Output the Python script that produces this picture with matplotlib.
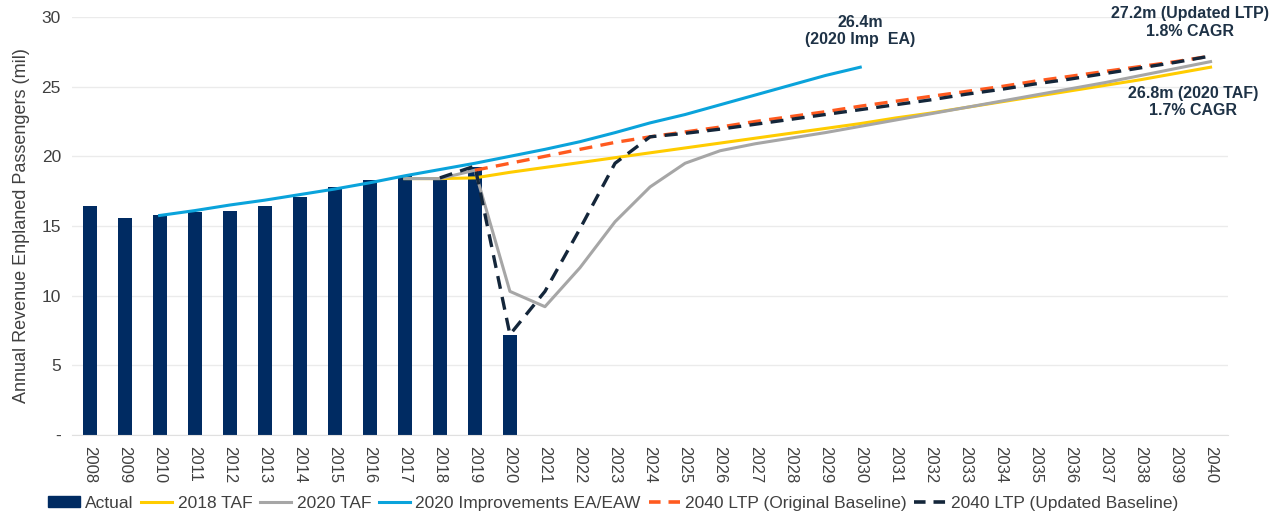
import numpy as np
import matplotlib.pyplot as plt
from matplotlib.patches import Patch
from matplotlib.lines import Line2D

plt.rcParams['font.family'] = ['Liberation Sans', 'DejaVu Sans']

years = list(range(2008, 2041))

# actual enplanements (2008-2020)
actual = [16.4, 15.6, 15.75, 16.0, 16.05, 16.4, 17.05, 17.8, 18.3, 18.55, 18.5, 19.2, 7.2]

# forecasts, first year of each series given separately
taf2018_start = 2017
taf2018 = [18.4, 18.4, 18.45, 18.85, 19.2, 19.55, 19.9, 20.25, 20.6, 20.95, 21.3, 21.65,
           22.0, 22.35, 22.75, 23.1, 23.5, 23.9, 24.3, 24.7, 25.1, 25.5, 25.95, 26.4]

taf2020_start = 2017
taf2020 = [18.4, 18.4, 19.0, 10.3, 9.2, 12.0, 15.3, 17.8, 19.5, 20.4, 20.9, 21.3,
           21.7, 22.15, 22.6, 23.05, 23.5, 23.95, 24.4, 24.85, 25.3, 25.8, 26.3, 26.8]

imp_start = 2010
imp = [15.75, 16.1, 16.5, 16.85, 17.25, 17.65, 18.1, 18.6, 19.05, 19.5, 20.0,
       20.5, 21.05, 21.7, 22.4, 23.0, 23.7, 24.4, 25.1, 25.8, 26.4]

ltp_orig_start = 2019
ltp_orig = [19.0, 19.5, 20.0, 20.5, 21.0, 21.4, 21.75, 22.1, 22.5, 22.85, 23.2, 23.6,
            23.95, 24.3, 24.65, 25.0, 25.4, 25.75, 26.1, 26.45, 26.8, 27.2]

ltp_upd_start = 2018
ltp_upd = [18.45, 19.3, 7.2, 10.3, 14.8, 19.5, 21.4, 21.65, 21.95, 22.3, 22.65, 23.0,
           23.35, 23.7, 24.05, 24.45, 24.8, 25.2, 25.55, 25.95, 26.35, 26.75, 27.2]

navy = '#002B62'
yellow = '#FFCC00'
gray = '#A6A6A6'
blue = '#0AA3DB'
orange = '#FF5A1F'
dark = '#14263A'
txt = '#1E3246'


def xpos(start, vals):
    return np.arange(len(vals)) + (start - years[0])


fig = plt.figure(figsize=(12.75, 5.17), dpi=100)
ax = fig.add_axes([0.0565, 0.159, 0.9067, 0.808])

x = np.arange(len(years))
ax.bar(x[:len(actual)], actual, width=0.4, color=navy, zorder=2)

ax.plot(xpos(taf2018_start, taf2018), taf2018, color=yellow, lw=2.2, zorder=3)
ax.plot(xpos(taf2020_start, taf2020), taf2020, color=gray, lw=2.2, zorder=3)
ax.plot(xpos(imp_start, imp), imp, color=blue, lw=2.2, zorder=3)
ax.plot(xpos(ltp_orig_start, ltp_orig), ltp_orig, color=orange, lw=2.4,
        dashes=(3.9, 2.5), zorder=4)
ax.plot(xpos(ltp_upd_start, ltp_upd), ltp_upd, color=dark, lw=2.4,
        dashes=(3.9, 2.5), zorder=5)

ax.set_xlim(-0.5, len(years) - 0.5)
ax.set_ylim(0, 30)
ax.set_xticks(x)
ax.set_xticklabels([str(y) for y in years], rotation=-90, fontsize=12, color='#404040')
ax.set_yticks(range(0, 31, 5))
ax.set_yticklabels(['-'] + [str(v) for v in range(5, 31, 5)], fontsize=12.5, color='#404040')
ax.tick_params(length=0, pad=8)
ax.set_ylabel('Annual Revenue Enplaned Passengers (mil)', fontsize=13, color='#404040', labelpad=8)

ax.grid(axis='y', color='#EBEBEB', lw=1, zorder=0)
for s in ['top', 'right', 'left']:
    ax.spines[s].set_visible(False)
ax.spines['bottom'].set_color('#E0E0E0')

# end-point callouts
ax.text(xpos(imp_start, imp)[-1], 29.0, '26.4m\n(2020 Imp  EA)', ha='center', va='center',
        fontsize=11.5, fontweight='bold', color=txt, linespacing=1.2)
ax.text(31.4, 29.6, '27.2m (Updated LTP)\n1.8% CAGR', ha='center', va='center',
        fontsize=11.5, fontweight='bold', color=txt, linespacing=1.2)
ax.text(31.5, 23.9, '26.8m (2020 TAF)\n1.7% CAGR', ha='center', va='center',
        fontsize=11.5, fontweight='bold', color=txt, linespacing=1.2)

handles = [
    Patch(color=navy, label='Actual'),
    Line2D([], [], color=yellow, lw=2.2, label='2018 TAF'),
    Line2D([], [], color=gray, lw=2.2, label='2020 TAF'),
    Line2D([], [], color=blue, lw=2.2, label='2020 Improvements EA/EAW'),
    Line2D([], [], color=orange, lw=2.6, dashes=(3.2, 2.2), label='2040 LTP (Original Baseline)'),
    Line2D([], [], color=dark, lw=2.6, dashes=(3.2, 2.2), label='2040 LTP (Updated Baseline)'),
]
leg = fig.legend(handles=handles, loc='center', bbox_to_anchor=(0.481, 0.027), ncol=6,
                 frameon=False, fontsize=12.5, handlelength=1.8, handleheight=0.55,
                 columnspacing=0.45, handletextpad=0.3)
for t in leg.get_texts():
    t.set_color('#404040')

fig.savefig('out.png', dpi=100)
